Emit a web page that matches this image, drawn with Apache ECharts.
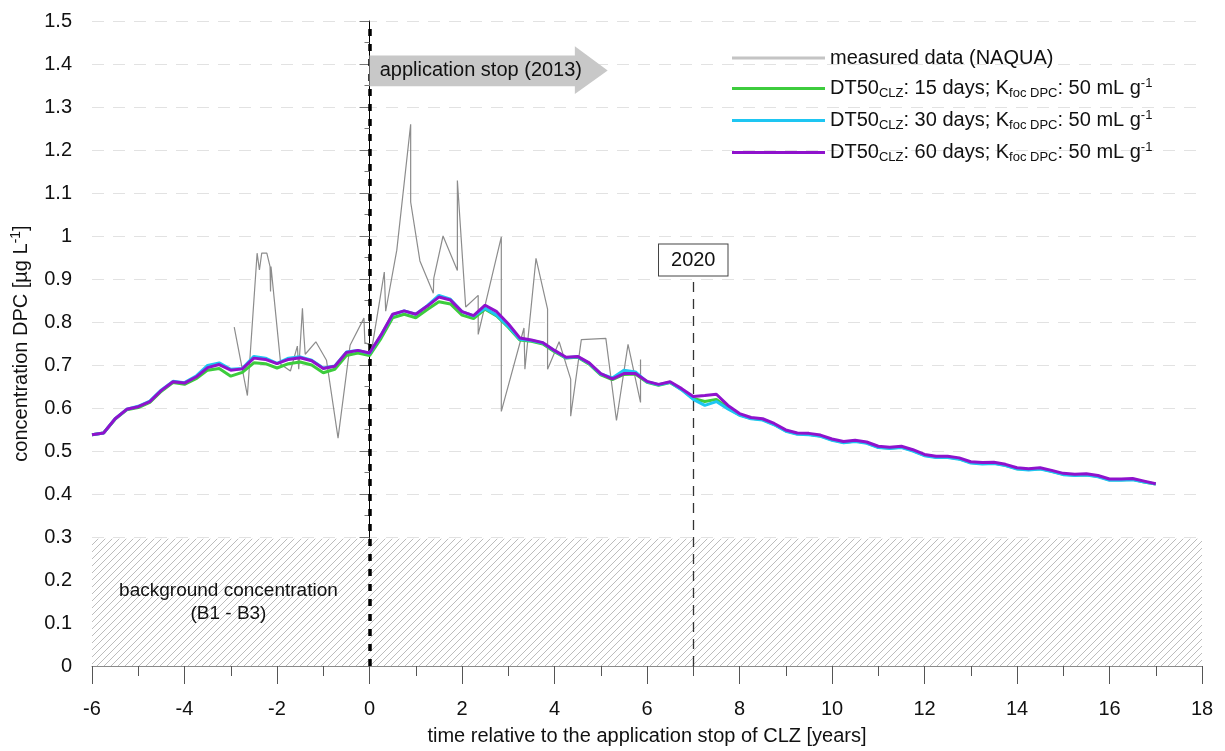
<!DOCTYPE html>
<html style="height: 100%">
<head>
<meta charset="utf-8">
<script src="https://cdn.jsdelivr.net/npm/echarts@6/dist/echarts.min.js"></script>
</head>
<body style="height: 100%; margin: 0; background: #fff;">
<div id="container" style="width: 1225px; height: 751px"></div>
<script type="text/javascript">

var FONT = 'Liberation Sans';

// model time axis (years relative to application stop)
var years = [-6, -5.75, -5.5, -5.25, -5, -4.75, -4.5, -4.25, -4, -3.75, -3.5, -3.25, -3, -2.75, -2.5, -2.25,
        -2, -1.75, -1.5, -1.25, -1, -0.75, -0.5, -0.25, 0, 0.25, 0.5, 0.75, 1, 1.25, 1.5, 1.75,
        2, 2.25, 2.5, 2.75, 3, 3.25, 3.5, 3.75, 4, 4.25, 4.5, 4.75, 5, 5.25, 5.5, 5.75,
        6, 6.25, 6.5, 6.75, 7, 7.25, 7.5, 7.75, 8, 8.25, 8.5, 8.75, 9, 9.25, 9.5, 9.75,
        10, 10.25, 10.5, 10.75, 11, 11.25, 11.5, 11.75, 12, 12.25, 12.5, 12.75, 13, 13.25, 13.5, 13.75,
        14, 14.25, 14.5, 14.75, 15, 15.25, 15.5, 15.75, 16, 16.25, 16.5, 16.75, 17];

var dt15 = [0.538, 0.542, 0.574, 0.596, 0.601, 0.613, 0.639, 0.659, 0.655, 0.668, 0.688, 0.692, 0.674, 0.683, 0.705, 0.703,
        0.693, 0.703, 0.707, 0.700, 0.682, 0.690, 0.722, 0.728, 0.722, 0.762, 0.810, 0.818, 0.810, 0.829, 0.847, 0.842,
        0.816, 0.808, 0.830, 0.814, 0.788, 0.758, 0.755, 0.749, 0.731, 0.716, 0.718, 0.702, 0.677, 0.666, 0.678, 0.679,
        0.660, 0.653, 0.659, 0.643, 0.622, 0.615, 0.620, 0.600, 0.584, 0.576, 0.573, 0.562, 0.547, 0.540, 0.539, 0.535,
        0.526, 0.520, 0.523, 0.519, 0.509, 0.507, 0.509, 0.501, 0.490, 0.486, 0.486, 0.482, 0.473, 0.471, 0.472, 0.467,
        0.459, 0.457, 0.459, 0.453, 0.446, 0.444, 0.445, 0.441, 0.433, 0.433, 0.434, 0.428, 0.423];

var dt30 = [0.538, 0.542, 0.575, 0.597, 0.604, 0.616, 0.642, 0.662, 0.659, 0.674, 0.699, 0.705, 0.690, 0.692, 0.720, 0.716,
        0.704, 0.716, 0.719, 0.711, 0.693, 0.698, 0.730, 0.734, 0.727, 0.769, 0.817, 0.826, 0.818, 0.838, 0.862, 0.853,
        0.824, 0.814, 0.832, 0.816, 0.790, 0.760, 0.757, 0.751, 0.733, 0.717, 0.719, 0.704, 0.679, 0.670, 0.688, 0.684,
        0.661, 0.654, 0.660, 0.642, 0.620, 0.606, 0.615, 0.598, 0.583, 0.575, 0.572, 0.561, 0.546, 0.539, 0.538, 0.534,
        0.525, 0.519, 0.522, 0.518, 0.508, 0.506, 0.508, 0.500, 0.489, 0.485, 0.485, 0.481, 0.472, 0.470, 0.471, 0.466,
        0.458, 0.456, 0.458, 0.452, 0.445, 0.443, 0.444, 0.440, 0.432, 0.432, 0.433, 0.428, 0.423];

var dt60 = [0.538, 0.542, 0.575, 0.597, 0.603, 0.615, 0.641, 0.661, 0.658, 0.672, 0.694, 0.701, 0.688, 0.691, 0.716, 0.713,
        0.703, 0.713, 0.717, 0.710, 0.692, 0.697, 0.729, 0.734, 0.728, 0.770, 0.818, 0.826, 0.818, 0.837, 0.858, 0.851,
        0.824, 0.815, 0.839, 0.824, 0.796, 0.763, 0.758, 0.752, 0.734, 0.718, 0.720, 0.705, 0.680, 0.668, 0.680, 0.680,
        0.662, 0.655, 0.661, 0.645, 0.627, 0.629, 0.632, 0.606, 0.587, 0.578, 0.575, 0.564, 0.549, 0.542, 0.541, 0.537,
        0.528, 0.522, 0.525, 0.521, 0.511, 0.509, 0.511, 0.503, 0.492, 0.488, 0.488, 0.484, 0.475, 0.473, 0.474, 0.469,
        0.461, 0.459, 0.461, 0.455, 0.448, 0.446, 0.447, 0.443, 0.435, 0.435, 0.436, 0.430, 0.424];

// measured data (NAQUA)
var measX = [-2.925, -2.64, -2.43, -2.38, -2.33, -2.22, -2.15, -2.14, -2.13, -1.92, -1.71, -1.56, -1.53, -1.45, -1.42, -1.39,
        -1.16, -0.93, -0.68, -0.42, -0.12, -0.10, 0.06, 0.32, 0.35, 0.59, 0.89, 0.89, 1.09, 1.38, 1.39, 1.59,
        1.90, 1.90, 2.08, 2.35, 2.35, 2.85, 2.85, 3.34, 3.36, 3.60, 3.85, 3.85, 4.10, 4.35, 4.35, 4.58,
        5.11, 5.34, 5.59, 5.86, 5.86];
var measY = [0.788, 0.629, 0.960, 0.921, 0.960, 0.960, 0.929, 0.871, 0.929, 0.702, 0.686, 0.744, 0.690, 0.832, 0.771, 0.725,
        0.754, 0.711, 0.530, 0.746, 0.809, 0.752, 0.744, 0.916, 0.825, 0.967, 1.260, 1.079, 0.942, 0.867, 0.902, 1.000,
        0.920, 1.129, 0.835, 0.862, 0.771, 0.998, 0.592, 0.786, 0.690, 0.948, 0.830, 0.690, 0.754, 0.667, 0.581, 0.759,
        0.762, 0.571, 0.748, 0.613, 0.713];

var xTicks = [-6, 18, 2];     // min, max, interval
var yTicks = [0, 1.5, 0.1];
var background = 0.296;       // upper limit of background concentration
var stopYear = 0, year2020 = 7;

function pairs(xs, ys) {
        var out = [];
        for (var i = 0; i < xs.length; i++) out.push([xs[i], ys[i]]);
        return out;
}

// hatch pattern for the background band
var hatch = document.createElement('canvas');
hatch.width = 7; hatch.height = 7;
var hc = hatch.getContext('2d');
hc.fillStyle = '#fff'; hc.fillRect(0, 0, 7, 7);
hc.strokeStyle = '#bcbcbc'; hc.lineWidth = 1;
hc.beginPath();
hc.moveTo(0, 7); hc.lineTo(7, 0);
hc.moveTo(-1, 1); hc.lineTo(1, -1);
hc.moveTo(6, 8); hc.lineTo(8, 6);
hc.stroke();

var legendNames = {
        meas: '{t|measured data (NAQUA)}',
        dt15: '{t|DT50}{sub|CLZ}{t|: 15 days; K}{sub|foc DPC}{t|: 50 mL g}{sup|-1}',
        dt30: '{t|DT50}{sub|CLZ}{t|: 30 days; K}{sub|foc DPC}{t|: 50 mL g}{sup|-1}',
        dt60: '{t|DT50}{sub|CLZ}{t|: 60 days; K}{sub|foc DPC}{t|: 50 mL g}{sup|-1}'
};

var dom = document.getElementById('container');
var myChart = echarts.init(dom);

var option = {
        backgroundColor: '#fff',
        animation: false,
        textStyle: { fontFamily: FONT },
        grid: { left: 92, right: 23, top: 21, bottom: 77 },
        legend: {
                orient: 'vertical',
                left: 727,
                top: 43,
                itemWidth: 93,
                itemHeight: 3,
                itemGap: 9,
                icon: 'rect',
                data: [
                        { name: 'meas', itemStyle: { color: '#c4c4c4' } },
                        { name: 'dt15' }, { name: 'dt30' }, { name: 'dt60' }
                ],
                formatter: function (name) { return legendNames[name]; },
                textStyle: {
                        color: '#111',
                        fontFamily: FONT,
                        fontSize: 20,
                        rich: {
                                t: { fontSize: 20, lineHeight: 23, fontFamily: FONT, color: '#111' },
                                sub: { fontSize: 13, lineHeight: 13, verticalAlign: 'bottom', fontFamily: FONT, color: '#111' },
                                sup: { fontSize: 13, lineHeight: 13, verticalAlign: 'top', fontFamily: FONT, color: '#111' }
                        }
                }
        },
        xAxis: {
                type: 'value',
                min: xTicks[0], max: xTicks[1], interval: xTicks[2],
                name: 'time relative to the application stop of CLZ [years]',
                nameLocation: 'middle',
                nameGap: 60,
                nameTextStyle: { fontSize: 20, color: '#111', fontFamily: FONT },
                axisLine: { lineStyle: { color: '#8a8a8a', width: 1 } },
                axisTick: { length: 18, lineStyle: { color: '#555' } },
                minorTick: { show: true, splitNumber: 2, length: 10, lineStyle: { color: '#555' } },
                axisLabel: { fontSize: 20, color: '#111', margin: 33, fontFamily: FONT },
                splitLine: { show: false }
        },
        yAxis: {
                type: 'value',
                min: yTicks[0], max: yTicks[1], interval: yTicks[2],
                name: '{n|concentration DPC [µg L}{s|-1}{n|]}',
                nameLocation: 'middle',
                nameGap: 59,
                nameTextStyle: {
                        fontSize: 20, color: '#111', fontFamily: FONT,
                        rich: {
                                n: { fontSize: 20, lineHeight: 24, fontFamily: FONT, color: '#111' },
                                s: { fontSize: 14, lineHeight: 14, verticalAlign: 'top', fontFamily: FONT, color: '#111' }
                        }
                },
                axisLine: { show: true, lineStyle: { color: '#000', width: 1 } },
                axisTick: { length: 10, lineStyle: { color: '#777' } },
                minorTick: { show: true, splitNumber: 2, length: 5, lineStyle: { color: '#777' } },
                axisLabel: { fontSize: 20, color: '#111', margin: 20, fontFamily: FONT },
                splitLine: { show: true, lineStyle: { color: '#e2e2e2', type: [12, 9], width: 1 } }
        },
        series: [
                {
                        name: 'meas',
                        type: 'line',
                        data: pairs(measX, measY),
                        showSymbol: false,
                        color: '#8c8c8c',
                        lineStyle: { width: 1.2, color: '#8c8c8c' },
                        z: 3,
                        markArea: {
                                silent: true,
                                itemStyle: { color: { image: hatch, repeat: 'repeat' } },
                                data: [[{ coord: [xTicks[0], 0] }, { coord: [xTicks[1], background] }]]
                        },
                        markPoint: {
                                silent: true,
                                symbol: 'circle',
                                symbolSize: 1,
                                itemStyle: { color: 'rgba(0,0,0,0)' },
                                label: {
                                        show: true, position: 'inside',
                                        formatter: 'background concentration\n(B1 - B3)',
                                        fontSize: 19, lineHeight: 23, color: '#111', fontFamily: FONT, align: 'center'
                                },
                                data: [{ coord: [-3.05, 0.148] }]
                        }
                },
                {
                        name: 'dt15', type: 'line', data: pairs(years, dt15), showSymbol: false,
                        color: '#3dcc3d', lineStyle: { width: 3, color: '#3dcc3d' }, z: 4
                },
                {
                        name: 'dt30', type: 'line', data: pairs(years, dt30), showSymbol: false,
                        color: '#1ec6f2', lineStyle: { width: 3, color: '#1ec6f2' }, z: 5
                },
                {
                        name: 'dt60', type: 'line', data: pairs(years, dt60), showSymbol: false,
                        color: '#8f12cc', lineStyle: { width: 3, color: '#8f12cc' }, z: 6,
                        markLine: {
                                silent: true,
                                symbol: ['none', 'none'],
                                data: [
                                        [{ coord: [stopYear, 0], lineStyle: { color: '#000', width: 3.5, type: [7, 8], cap: 'butt' }, label: { show: false } },
                                         { coord: [stopYear, 1.485] }],
                                        [{ coord: [year2020, 0], lineStyle: { color: '#333', width: 1.3, type: [10, 7] },
                                           label: {
                                                show: true, position: 'end', distance: 0, formatter: '2020',
                                                fontSize: 20, color: '#111', fontFamily: FONT,
                                                backgroundColor: '#fff', borderColor: '#444', borderWidth: 1,
                                                padding: [6, 12, 5, 12]
                                           } },
                                         { coord: [year2020, 0.908] }]
                                ]
                        }
                }
        ]
};

myChart.setOption(option);

// arrow "application stop (2013)"
function px(p) { return myChart.convertToPixel({ gridIndex: 0 }, p); }
var arrowPts = [[0, 1.42], [4.44, 1.42], [4.44, 1.441], [5.15, 1.385], [4.44, 1.33], [4.44, 1.348], [0, 1.348]];
var textPos = px([0.22, 1.384]);
myChart.setOption({
        graphic: [
                {
                        type: 'polygon',
                        shape: { points: arrowPts.map(px) },
                        style: { fill: '#c8c8c8' },
                        z: 10
                },
                {
                        type: 'text',
                        x: textPos[0], y: textPos[1],
                        style: {
                                text: 'application stop (2013)', fill: '#111',
                                font: '20px "Liberation Sans"', textVerticalAlign: 'middle', verticalAlign: 'middle'
                        },
                        z: 11
                }
        ]
});

</script>
</body>
</html>
